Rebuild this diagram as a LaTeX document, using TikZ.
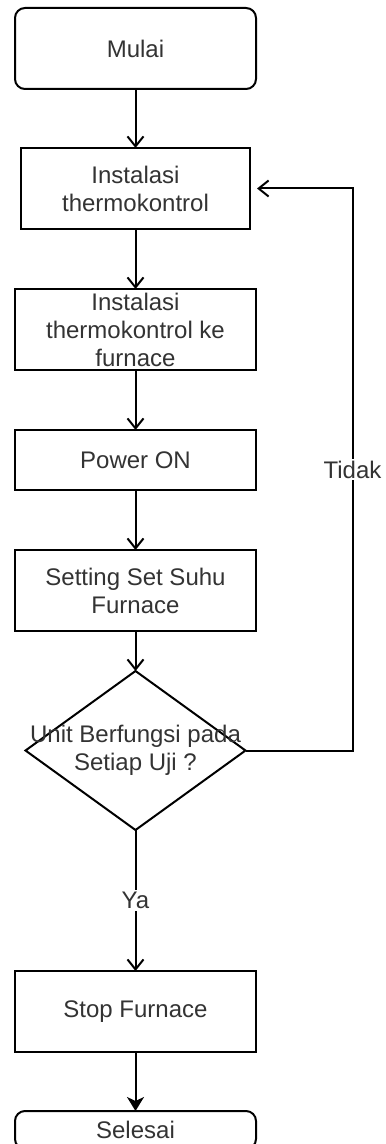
\documentclass[tikz,border=0pt]{standalone}
\usepackage{fontspec}
\setmainfont{Liberation Sans}
\usetikzlibrary{shapes.geometric,arrows.meta,positioning,calc}

\begin{document}
\begin{tikzpicture}[
    font=\fontsize{12}{14}\selectfont, text=black!80, line width=1pt,
    proses/.style={rectangle, draw, align=center, inner sep=2pt, outer sep=0pt,
                   minimum width=120.5pt, minimum height=40.5pt},
    terminal/.style={proses, rounded corners=5pt},
    keputusan/.style={diamond, draw, inner sep=0pt, outer sep=0pt,
                      minimum width=110pt, minimum height=79.5pt},
    panah/.style={-{Straight Barb[length=5pt,width=8pt]}},
    teks/.style={fill=white, inner sep=1pt}
  ]
  \useasboundingbox (0,0) rectangle (192.5pt,-572pt);

  \node[terminal] (mulai) at (67.75pt,-24.25pt) {Mulai};
  \node[proses, minimum width=114.5pt, below=29.5pt of mulai] (instal) {Instalasi\\thermokontrol};
  \node[proses, inner sep=0pt, below=30pt of instal] (pasang) {Instalasi\\thermokontrol ke\\furnace};
  \node[proses, minimum height=30pt, below=30pt of pasang] (power) {Power ON};
  \node[proses, below=30pt of power] (setting) {Setting Set Suhu\\Furnace};
  \node[keputusan, below=20pt of setting] (cek) {};
  \node[align=center] (cektxt) at (cek) {Unit Berfungsi pada\\Setiap Uji ?};
  \node[proses, below=70.5pt of cek] (stop) {Stop Furnace};
  \node[terminal, minimum height=19pt, below=29.5pt of stop] (selesai) {Selesai};

  \draw[panah] (mulai) -- (instal);
  \draw[panah] (instal) -- (pasang);
  \draw[panah] (pasang) -- (power);
  \draw[panah] (power) -- (setting);
  \draw[panah] (setting) -- (cek);
  \draw[panah] (cek) -- node[teks] (ya) {Ya} (stop);
  \draw[-{Stealth[length=7pt,width=8.5pt,inset=2pt]}] (stop) -- (selesai);
  \draw[panah, shorten >=3.5pt] (cek.east) -- ++(53.5pt,0) coordinate (pojok)
    -- node[teks] (tidak) {Tidak} (pojok |- instal.east) -- (instal.east);
\end{tikzpicture}
\end{document}
